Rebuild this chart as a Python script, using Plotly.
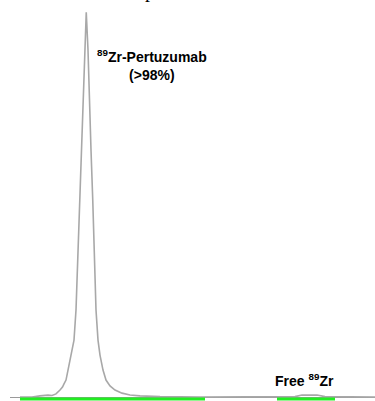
import plotly.graph_objects as go

# Radio-TLC trace: distance along strip (mm) vs counts
distance_mm = [8.0, 12.8, 16.0, 19.2, 20.8, 22.4, 24.0, 25.0, 25.6, 26.4, 27.2, 28.4, 29.6,
               30.4, 31.2, 31.8, 32.4, 33.1, 33.8, 34.5, 35.2, 35.7, 36.4, 37.1, 37.6,
               38.4, 39.2, 40.0, 41.2, 42.4, 44.0, 46.0, 48.8, 52.0, 56.0, 64.0, 80.0,
               108.0, 118.0, 120.8, 124.0, 126.8, 130.0, 150.0]
counts = [0, 0, 3, 5, 4, 8, 18, 26, 34, 44, 70, 109, 148,
          226, 382, 512, 642, 772, 902, 1000, 902, 772, 642, 512, 382,
          226, 148, 109, 70, 44, 29, 18, 10, 5, 3, 1, 0,
          0, 1, 5, 6, 5, 1, 0]

# Regions of interest (start, end) in mm
roi_regions = [(8.0, 82.0), (110.8, 134.0)]
baseline_span = (4.0, 150.0)

peak_label = "<b><sup>89</sup>Zr-Pertuzumab<br>(>98%)</b>"
peak_label_pos = (60.8, 864)
free_label = "<b>Free <sup>89</sup>Zr</b>"
free_label_pos = (121.6, 44)

fig = go.Figure()

fig.add_trace(go.Scatter(x=list(baseline_span), y=[-1.3, -1.3], mode="lines",
                         line=dict(color="#9a9a9a", width=1), hoverinfo="skip"))
fig.add_trace(go.Scatter(x=distance_mm, y=counts, mode="lines",
                         line=dict(color="#a8a8a8", width=1.6)))
for (a, b) in roi_regions:
    fig.add_trace(go.Scatter(x=[a, b], y=[-5.5, -5.5], mode="lines",
                             line=dict(color="#22ee22", width=3), hoverinfo="skip"))

fig.add_annotation(x=peak_label_pos[0], y=peak_label_pos[1], xref="x", yref="y",
                   text=peak_label, showarrow=False,
                   font=dict(family="Liberation Sans, Arial", size=14, color="black"))
fig.add_annotation(x=free_label_pos[0], y=free_label_pos[1], xref="x", yref="y",
                   text=free_label, showarrow=False,
                   font=dict(family="Liberation Sans, Arial", size=14, color="black"))
# cut-off title fragment at the top edge
fig.add_annotation(x=146 / 2.5, y=1, xref="x", yref="paper", yanchor="bottom",
                   xanchor="left", xshift=-3, yshift=-4,
                   text="p", showarrow=False,
                   font=dict(family="Liberation Serif, Times New Roman", size=20, color="black"))

fig.update_layout(
    width=375, height=401, margin=dict(l=0, r=0, t=0, b=0),
    paper_bgcolor="white", plot_bgcolor="white", showlegend=False,
    xaxis=dict(visible=False, range=[0, 150]),
    yaxis=dict(visible=False, range=[-10.4, 1032]),
)

fig.write_html("out.html", config={"displayModeBar": False},
               post_script="document.body.style.margin='0';")
